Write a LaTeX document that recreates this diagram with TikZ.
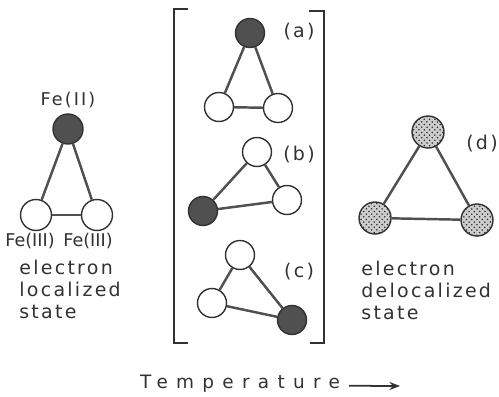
\documentclass[tikz,border=0pt]{standalone}
\usepackage{fontspec}
\setmainfont{DejaVu Sans}
\newfontfamily\spacedfont[LetterSpace=12]{DejaVu Sans}
\newfontfamily\widefont[LetterSpace=45]{DejaVu Sans}
\usetikzlibrary{arrows.meta,patterns}
\definecolor{inkclr}{RGB}{50,50,50}
\definecolor{bondclr}{RGB}{80,80,80}
\definecolor{darkfill}{RGB}{80,80,80}
\definecolor{dotfill}{RGB}{205,205,205}
\tikzset{
  site/.style={circle,draw=inkclr,line width=0.8pt,inner sep=0pt,
    minimum size=0.58cm},
  fetwo/.style={site,fill=darkfill},
  fethree/.style={site,fill=white},
  femix/.style={site,minimum size=0.64cm,fill=dotfill,
    postaction={pattern=crosshatch dots,pattern color=inkclr}},
  bond/.style={line width=1.4pt,color=bondclr},
  brk/.style={line width=0.8pt,color=inkclr},
  lbl/.style={font=\spacedfont\fontsize{10.8}{12.5}\selectfont,text=inkclr,
    inner sep=0pt},
  felbl/.style={lbl,font=\fontsize{10}{12}\selectfont},
  arr/.style={-{Stealth[length=6pt,width=4.5pt]},line width=1pt,color=inkclr},
}

\begin{document}
\begin{tikzpicture}[x=0.02cm,y=-0.02cm]
  \useasboundingbox (0,0) rectangle (499,396);

  % localized state
  \node[fetwo,minimum size=0.6cm]   (lt) at (68,129)  {};
  \node[fethree,minimum size=0.62cm] (ll) at (36,215)  {};
  \node[fethree,minimum size=0.62cm] (lr) at (97,215)  {};
  \node[lbl,font=\spacedfont\fontsize{10}{12}\selectfont] (lttxt) at (68,100)
    {Fe(II)};
  \node[felbl] (lltxt) at (30,241) {Fe(III)};
  \node[felbl] (lrtxt) at (88,241) {Fe(III)};
  \node[lbl,align=left,anchor=north west] (loctxt) at (19,260)
    {electron\\localized\\state};

  % (a)
  \node[fetwo]   (at) at (250,33)  {};
  \node[fethree] (al) at (219,107) {};
  \node[fethree] (ar) at (278,108) {};
  \node[lbl] (alb) at (299,32) {(a)};
  % (b)
  \node[fethree] (bt) at (257,152) {};
  \node[fethree] (br) at (287,200) {};
  \node[fetwo]   (bl) at (203,211) {};
  \node[lbl] (blb) at (299,155) {(b)};
  % (c)
  \node[fethree] (ct) at (240,255) {};
  \node[fethree] (cl) at (212,303) {};
  \node[fetwo]   (cr) at (292,320) {};
  \node[lbl] (clb) at (299,272) {(c)};

  % delocalized state
  \node[femix] (dt) at (428,132) {};
  \node[femix] (dl) at (375,218) {};
  \node[femix] (dr) at (477,220) {};
  \node[lbl] (dlb) at (482,144) {(d)};
  \node[lbl,align=left,anchor=north west] (deltxt) at (361,261)
    {electron\\delocalized\\state};

  \foreach \a/\b/\c in {lt/ll/lr,at/al/ar,bt/br/bl,ct/cl/cr,dt/dl/dr}{
    \draw[bond] (\a) -- (\b);
    \draw[bond] (\b) -- (\c);
    \draw[bond] (\c) -- (\a);
  }

  % brackets
  \draw[brk] (188,9) -- (174,9) -- (174,343) -- (188,343);
  \draw[brk] (309,11) -- (324,11) -- (324,343) -- (310,343);

  % temperature axis
  \node[lbl,font=\widefont\fontsize{10.5}{12}\selectfont] (temp) at (240,384)
    {Temperature};
  \coordinate (tend) at (400,386);
  \draw[arr] ([xshift=5pt,yshift=-1pt]temp.east) -- (tend);
\end{tikzpicture}
\end{document}
